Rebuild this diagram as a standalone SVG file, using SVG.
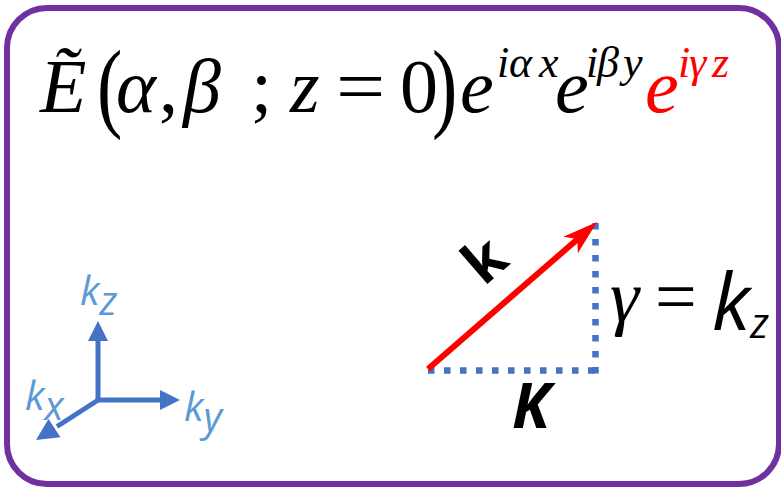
<svg xmlns="http://www.w3.org/2000/svg" width="781" height="491" viewBox="0 0 781 491">
<style>
.m{font-family:"Liberation Serif","Times New Roman",serif;font-size:76px;fill:#000}
.i{font-style:italic}
.sup{font-family:"Liberation Serif","Times New Roman",serif;font-size:44px;font-style:italic}
.ax{fill:none;stroke:#4472C4;stroke-width:5}
.axh{fill:#4472C4}
.lab{font-family:"Open Sans","Noto Sans",sans-serif;font-style:italic;fill:#5B9BD5;font-size:40px}
.dot{fill:none;stroke:#4472C4;stroke-width:6.5;stroke-dasharray:6.5 9.5}
</style>
<rect id="frame" x="7" y="8" width="772" height="476" rx="40" ry="40" fill="#fff" stroke="#7030A0" stroke-width="6"/>
<g id="formula">
<text class="m i" x="40" y="112">Ẽ</text>
<text class="m" transform="translate(97,118.6) scale(1,1.3)">(</text>
<text class="m i" x="116" y="112">α</text>
<text class="m" x="159" y="112">,</text>
<text class="m i" x="183" y="112">β</text>
<text class="m" x="251" y="112">;</text>
<text class="m i" x="290" y="112">z</text>
<text class="m" transform="translate(336,112) scale(1.15,1)">=</text>
<text class="m" x="400" y="112">0</text>
<text class="m" transform="translate(432,118.6) scale(1,1.3)">)</text>
<text class="m i" x="460" y="112">e</text>
<text class="sup" x="497" y="77">i</text>
<text class="sup" x="509" y="77">α</text>
<text class="sup" x="539" y="77">x</text>
<text class="m i" x="555" y="112">e</text>
<text class="sup" x="586" y="77">i</text>
<text class="sup" x="597" y="77">β</text>
<text class="sup" x="623" y="77">y</text>
<g fill="#FF0000">
<text class="m i" x="645" y="112" style="fill:#FF0000">e</text>
<text class="sup" x="678" y="77">i</text>
<text class="sup" x="689" y="77">γ</text>
<text class="sup" x="712" y="77">z</text>
</g>
</g>
<g id="axes">
<line class="ax" x1="98" y1="402" x2="98" y2="338"/>
<polygon class="axh" points="98,321 88,341 108,341"/>
<line class="ax" x1="96" y1="400" x2="162" y2="400"/>
<polygon class="axh" points="180,400 160,390 160,410"/>
<line class="ax" x1="99" y1="399.5" x2="57" y2="426.5"/>
<polygon class="axh" points="36,440 60.5,437.3 48.5,418.9"/>
<text class="lab" x="80" y="305">k<tspan dy="10">z</tspan></text>
<text class="lab" x="184" y="421">k<tspan dy="10">y</tspan></text>
<text class="lab" x="25" y="410">k<tspan dy="10">x</tspan></text>
</g>
<g id="connectors">
<line class="dot" x1="428" y1="370.5" x2="599" y2="370.5"/>
<line class="dot" x1="595.5" y1="223" x2="595.5" y2="374"/>
<line x1="428" y1="369" x2="580" y2="237" stroke="#FF0000" stroke-width="6"/>
<polygon points="597,222 563.4,236.7 577.4,239 577.8,253.3" fill="#FF0000"/>
</g>
<g id="labels">
<text transform="translate(484,287) rotate(-41)" font-family="'Open Sans','Noto Sans',sans-serif" font-weight="700" font-size="58" fill="#000">k</text>
<text x="512" y="428" font-family="'Open Sans','Noto Sans',sans-serif" font-weight="700" font-style="italic" font-size="62" fill="#000">K</text>
<text x="610" y="321" font-family="'Liberation Serif','Times New Roman',serif" font-style="italic" font-size="74" fill="#000">γ</text>
<text x="655" y="321" font-family="'Liberation Serif','Times New Roman',serif" font-size="74" fill="#000">=</text>
<text x="712" y="330" font-family="'Open Sans','Noto Sans',sans-serif" font-style="italic" font-size="78" fill="#000">k<tspan font-size="42" dy="8">z</tspan></text>
</g>
</svg>
